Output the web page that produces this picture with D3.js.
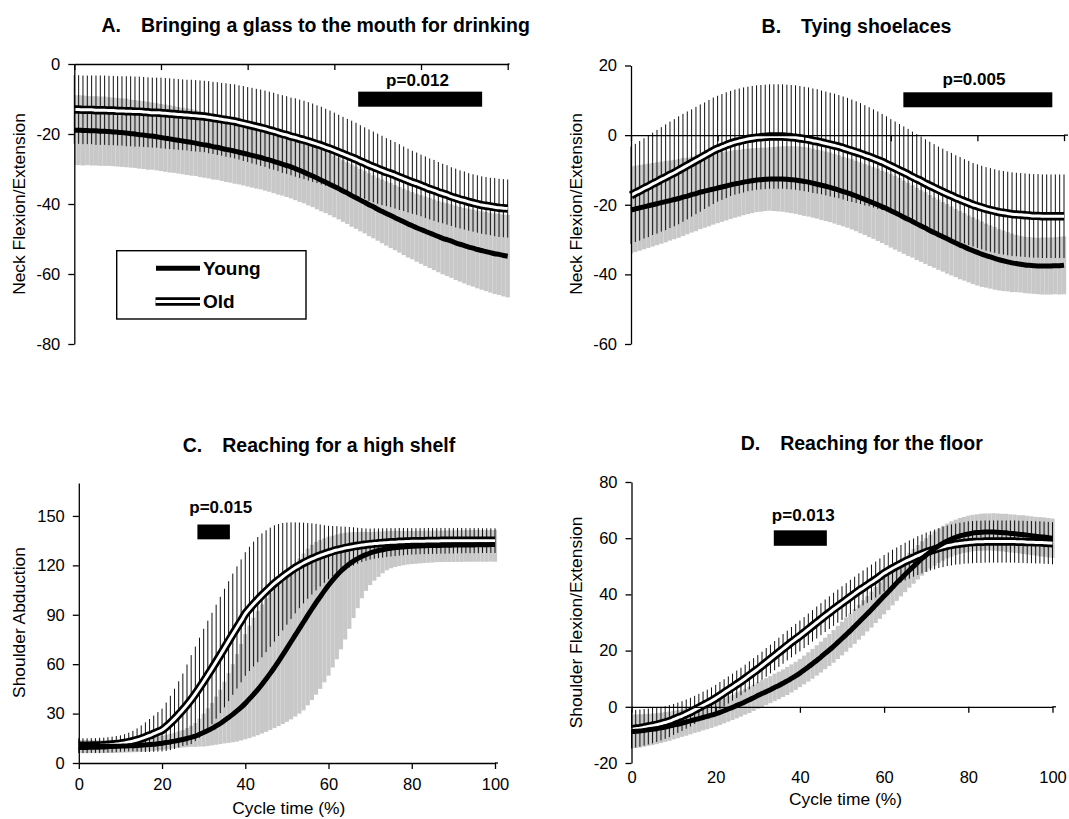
<!DOCTYPE html>
<html>
<head>
<meta charset="utf-8">
<script src="https://cdn.jsdelivr.net/npm/d3@7"></script>
<style>
  body { margin: 0; background: #fff; }
  svg { display: block; font-family: "Liberation Sans", Arial, sans-serif; }
</style>
</head>
<body>
<svg id="chart" width="1069" height="819"></svg>
<script>
// cycle time (%) 0..100, one sample per percent
const cycle = d3.range(0, 101);
const xTicks = [0, 20, 40, 60, 80, 100];

// ---- A. Bringing a glass to the mouth (neck flexion/extension)
const youngMeanA = [
  -18.9,-18.9,-19.0,-19.0,-19.1,-19.1,-19.2,-19.2,-19.3,-19.4,-19.5,
  -19.6,-19.7,-19.9,-20.0,-20.2,-20.3,-20.5,-20.6,-20.8,-21.0,
  -21.2,-21.4,-21.6,-21.8,-22.0,-22.2,-22.4,-22.6,-22.9,-23.1,
  -23.3,-23.6,-23.8,-24.1,-24.4,-24.6,-24.9,-25.2,-25.5,-25.8,
  -26.1,-26.4,-26.7,-27.1,-27.4,-27.8,-28.2,-28.6,-29.0,-29.4,
  -29.9,-30.4,-30.9,-31.5,-32.0,-32.6,-33.2,-33.8,-34.4,-35.0,
  -35.6,-36.3,-36.9,-37.6,-38.2,-38.9,-39.5,-40.2,-40.8,-41.5,
  -42.1,-42.7,-43.3,-43.9,-44.5,-45.1,-45.7,-46.2,-46.8,-47.3,
  -47.8,-48.3,-48.8,-49.3,-49.8,-50.2,-50.6,-51.1,-51.5,-51.9,
  -52.3,-52.6,-53.0,-53.3,-53.6,-53.9,-54.2,-54.4,-54.7,-54.9];
const youngSdA = [
  10.0,10.0,10.0,9.9,9.9,9.9,9.9,9.9,9.8,9.8,9.8,
  9.8,9.8,9.7,9.7,9.7,9.7,9.7,9.6,9.6,9.6,
  9.6,9.6,9.5,9.5,9.5,9.5,9.5,9.4,9.4,9.4,
  9.4,9.4,9.3,9.3,9.3,9.3,9.3,9.2,9.2,9.2,
  9.2,9.2,9.1,9.1,9.1,9.1,9.1,9.0,9.0,9.0,
  9.0,9.0,8.9,8.9,8.9,8.9,8.9,8.8,8.8,8.8,
  8.8,8.8,8.8,8.9,8.9,8.9,8.9,9.0,9.0,9.0,
  9.1,9.2,9.3,9.3,9.4,9.5,9.6,9.6,9.7,9.8,
  9.9,10.0,10.1,10.2,10.3,10.4,10.5,10.6,10.7,10.8,
  10.9,11.0,11.1,11.2,11.3,11.4,11.5,11.6,11.7,11.8];
const oldMeanA = [
  -13.0,-13.0,-13.1,-13.1,-13.1,-13.2,-13.2,-13.2,-13.3,-13.3,-13.4,
  -13.4,-13.5,-13.5,-13.6,-13.6,-13.7,-13.8,-13.9,-13.9,-14.0,
  -14.1,-14.2,-14.3,-14.4,-14.5,-14.6,-14.7,-14.8,-14.9,-15.0,
  -15.2,-15.4,-15.6,-15.8,-16.0,-16.2,-16.4,-16.7,-17.0,-17.3,
  -17.6,-17.9,-18.2,-18.5,-18.9,-19.2,-19.6,-20.0,-20.3,-20.7,
  -21.0,-21.4,-21.7,-22.1,-22.5,-22.9,-23.3,-23.8,-24.2,-24.7,
  -25.2,-25.7,-26.2,-26.7,-27.2,-27.8,-28.3,-28.9,-29.4,-29.9,
  -30.4,-30.9,-31.3,-31.8,-32.3,-32.8,-33.3,-33.8,-34.2,-34.7,
  -35.2,-35.7,-36.1,-36.6,-37.0,-37.4,-37.9,-38.3,-38.7,-39.0,
  -39.4,-39.7,-40.0,-40.3,-40.5,-40.7,-40.9,-41.1,-41.2,-41.3];
const oldSdA = [
  9.8,9.8,9.8,9.8,9.8,9.9,9.9,9.9,9.9,9.9,9.9,
  9.9,10.0,10.0,10.0,10.0,10.0,10.0,10.0,10.0,10.1,
  10.1,10.1,10.1,10.1,10.1,10.1,10.2,10.2,10.2,10.2,
  10.3,10.3,10.4,10.4,10.5,10.5,10.6,10.6,10.7,10.7,
  10.8,10.8,10.9,10.9,11.0,11.0,11.0,11.1,11.1,11.1,
  11.2,11.2,11.2,11.2,11.2,11.1,11.1,11.0,10.9,10.8,
  10.7,10.6,10.5,10.5,10.4,10.3,10.2,10.2,10.1,10.0,
  9.9,9.7,9.6,9.5,9.4,9.2,9.1,9.0,8.9,8.8,
  8.8,8.7,8.7,8.6,8.5,8.5,8.4,8.4,8.3,8.3,
  8.2,8.2,8.2,8.2,8.2,8.2,8.3,8.3,8.3,8.3];

// ---- B. Tying shoelaces (neck flexion/extension)
const youngMeanB = [
  -21.5,-21.2,-20.9,-20.6,-20.3,-20.0,-19.7,-19.4,-19.1,-18.8,-18.5,
  -18.2,-17.8,-17.5,-17.1,-16.8,-16.4,-16.1,-15.8,-15.5,-15.2,
  -14.9,-14.6,-14.3,-14.0,-13.8,-13.5,-13.3,-13.1,-12.9,-12.8,
  -12.7,-12.6,-12.6,-12.6,-12.6,-12.7,-12.8,-12.9,-13.1,-13.3,
  -13.5,-13.8,-14.1,-14.4,-14.7,-15.0,-15.4,-15.8,-16.2,-16.6,
  -17.0,-17.5,-18.0,-18.5,-19.0,-19.5,-20.0,-20.6,-21.1,-21.7,
  -22.3,-22.9,-23.6,-24.2,-24.8,-25.5,-26.1,-26.7,-27.4,-28.0,
  -28.6,-29.2,-29.8,-30.4,-31.0,-31.6,-32.1,-32.7,-33.2,-33.7,
  -34.2,-34.6,-35.0,-35.4,-35.8,-36.1,-36.4,-36.7,-36.9,-37.1,
  -37.3,-37.4,-37.5,-37.6,-37.6,-37.6,-37.6,-37.5,-37.5,-37.4];
const youngSdB = [
  12.5,12.4,12.3,12.2,12.1,12.0,11.9,11.8,11.7,11.5,11.4,
  11.3,11.2,11.0,10.9,10.8,10.6,10.5,10.4,10.2,10.1,
  10.0,9.9,9.8,9.7,9.6,9.5,9.4,9.3,9.2,9.2,
  9.1,9.1,9.2,9.3,9.4,9.5,9.6,9.7,9.8,9.9,
  9.9,9.9,9.9,10.0,10.0,10.0,10.0,10.0,10.0,10.0,
  10.1,10.1,10.2,10.2,10.3,10.3,10.4,10.4,10.5,10.6,
  10.6,10.6,10.5,10.5,10.4,10.4,10.3,10.3,10.2,10.1,
  10.1,10.0,10.0,9.9,9.8,9.8,9.7,9.6,9.6,9.5,
  9.4,9.2,9.1,9.0,8.8,8.7,8.5,8.4,8.2,8.1,
  8.1,8.1,8.1,8.1,8.2,8.2,8.2,8.2,8.3,8.3];
const oldMeanB = [
  -17.3,-16.6,-16.0,-15.3,-14.7,-14.0,-13.4,-12.7,-12.1,-11.4,-10.8,
  -10.1,-9.4,-8.7,-8.0,-7.3,-6.6,-5.9,-5.2,-4.5,-3.9,
  -3.4,-2.9,-2.4,-2.0,-1.7,-1.4,-1.1,-0.9,-0.7,-0.6,
  -0.5,-0.4,-0.4,-0.4,-0.4,-0.5,-0.6,-0.7,-0.9,-1.1,
  -1.3,-1.6,-1.8,-2.1,-2.4,-2.7,-3.0,-3.3,-3.7,-4.1,
  -4.5,-4.9,-5.3,-5.8,-6.2,-6.7,-7.2,-7.7,-8.3,-8.9,
  -9.5,-10.1,-10.7,-11.3,-12.0,-12.6,-13.2,-13.9,-14.5,-15.1,
  -15.7,-16.3,-16.9,-17.4,-18.0,-18.5,-19.0,-19.5,-20.0,-20.4,
  -20.8,-21.2,-21.5,-21.8,-22.1,-22.3,-22.5,-22.7,-22.8,-22.9,
  -23.0,-23.1,-23.2,-23.2,-23.3,-23.3,-23.3,-23.3,-23.3,-23.3];
const oldSdB = [
  14.0,14.1,14.3,14.4,14.6,14.7,14.9,15.0,15.2,15.3,15.4,
  15.5,15.5,15.5,15.4,15.4,15.4,15.3,15.3,15.3,15.2,
  15.2,15.2,15.1,15.1,15.1,15.1,15.0,15.0,15.0,15.0,
  15.0,15.0,15.0,15.0,15.0,15.0,15.0,15.0,15.0,15.0,
  15.0,15.0,15.0,14.9,14.9,14.9,14.9,14.8,14.8,14.8,
  14.7,14.6,14.5,14.4,14.2,14.1,14.0,13.8,13.7,13.5,
  13.4,13.3,13.2,13.1,13.0,12.9,12.8,12.7,12.6,12.5,
  12.4,12.4,12.3,12.3,12.2,12.2,12.1,12.1,12.0,12.0,
  12.0,12.0,12.0,12.0,12.0,12.0,12.0,12.0,12.0,12.0,
  12.0,12.0,12.0,12.0,12.0,12.0,12.0,12.0,12.0,12.0];

// ---- C. Reaching for a high shelf (shoulder abduction)
const youngMeanC = [
  10.0,10.0,10.0,10.0,10.0,10.0,10.0,10.1,10.1,10.1,10.2,
  10.3,10.4,10.5,10.6,10.8,11.0,11.2,11.4,11.7,12.0,
  12.4,12.8,13.3,13.8,14.3,14.9,15.6,16.3,17.4,18.5,
  19.7,21.0,22.5,24.0,25.8,27.6,29.5,31.6,33.8,36.2,
  38.9,41.7,44.6,47.7,51.0,54.4,58.0,61.7,65.6,69.6,
  73.6,77.6,81.6,85.6,89.6,93.5,97.3,100.9,104.5,107.9,
  111.0,113.9,116.6,118.8,120.8,122.6,124.1,125.4,126.5,127.5,
  128.3,129.0,129.5,130.0,130.4,130.7,131.0,131.2,131.4,131.6,
  131.7,131.8,131.9,132.0,132.0,132.1,132.1,132.2,132.2,132.3,
  132.3,132.3,132.4,132.4,132.4,132.5,132.5,132.5,132.6,132.6];
// the young spread in C is not symmetric: upward and downward extent
const youngSdC = [
  4.0,4.0,4.0,4.0,4.0,4.0,4.0,4.0,4.0,4.0,4.0,
  4.0,4.0,4.0,4.0,4.0,4.1,4.2,4.3,4.4,4.5,
  4.7,4.9,5.1,5.4,5.7,6.3,7.0,8.0,9.5,11.5,
  13.5,15.5,17.8,20.5,23.5,27.0,30.5,34.5,38.5,42.0,
  44.5,46.5,47.8,48.6,49.0,48.9,48.5,47.8,46.8,45.5,
  44.5,43.5,42.5,41.5,40.5,39.0,37.0,34.5,32.0,29.5,
  27.0,24.8,22.8,21.0,19.2,17.6,16.2,15.0,13.8,12.7,
  12.0,11.5,11.1,10.8,10.6,10.3,10.0,9.7,9.5,9.3,
  9.2,9.2,9.1,9.1,9.0,9.0,9.0,9.0,9.0,9.0,
  9.0,9.0,9.0,9.0,9.0,9.0,8.9,8.9,8.9,8.9];
const youngSdLowC = [
  4.0,4.0,4.0,4.0,4.0,4.0,4.0,4.0,4.0,4.0,4.0,
  4.0,4.0,4.0,4.0,4.0,4.0,4.0,4.0,4.0,4.0,
  4.1,4.2,4.4,4.6,4.9,5.3,5.8,6.5,7.4,8.5,
  9.4,10.3,11.4,12.5,13.9,15.4,16.9,18.6,20.1,21.8,
  23.8,25.7,27.7,29.8,32.1,34.4,36.8,39.3,41.9,44.6,
  47.1,49.4,51.6,53.6,54.6,55.3,55.8,55.9,55.5,54.9,
  53.0,50.9,47.6,43.8,39.3,34.6,30.1,25.4,22.0,19.5,
  17.6,16.0,14.3,13.0,12.2,11.7,11.4,11.1,10.9,10.8,
  10.7,10.6,10.5,10.4,10.3,10.1,10.1,10.1,10.1,10.2,
  10.2,10.2,10.2,10.2,10.2,10.3,10.3,10.3,10.3,10.4];
const oldMeanC = [
  10.5,10.5,10.5,10.6,10.6,10.7,10.8,11.0,11.2,11.5,11.8,
  12.2,12.7,13.3,14.0,14.8,15.7,16.7,17.8,18.9,20.0,
  22.0,24.3,26.8,29.5,32.3,35.3,38.5,42.0,45.7,49.5,
  53.4,57.4,61.5,65.6,69.8,74.0,78.2,82.3,86.3,90.5,
  93.6,96.5,99.2,101.8,104.3,106.7,109.0,111.1,113.1,115.0,
  116.8,118.5,120.0,121.4,122.7,123.9,125.0,126.0,126.9,127.8,
  128.6,129.3,129.9,130.5,131.0,131.5,131.9,132.3,132.6,132.9,
  133.2,133.4,133.6,133.8,134.0,134.1,134.3,134.4,134.5,134.6,
  134.6,134.7,134.7,134.8,134.8,134.8,134.9,134.9,134.9,134.9,
  135.0,135.0,135.0,135.0,135.0,135.0,135.0,135.0,135.0,135.0];
const oldSdC = [
  4.5,4.5,4.5,4.5,4.5,4.6,4.6,4.7,4.8,4.9,5.0,
  5.3,5.7,6.2,7.0,8.0,9.0,10.0,11.0,12.0,13.0,
  14.7,16.5,18.3,20.1,22.0,24.5,27.0,28.7,30.4,32.0,
  33.0,33.8,34.6,35.3,36.0,36.4,36.8,37.1,37.3,37.5,
  37.7,37.9,38.0,37.6,37.0,36.2,35.3,34.0,32.6,31.0,
  29.3,27.6,26.0,24.5,23.0,21.6,20.2,18.8,17.5,16.2,
  15.3,14.5,13.7,13.0,12.3,11.6,10.9,10.3,9.8,9.4,
  9.2,9.0,8.9,8.7,8.6,8.5,8.4,8.3,8.1,8.0,
  8.0,7.9,7.9,7.9,7.8,7.8,7.8,7.8,7.7,7.7,
  7.7,7.7,7.6,7.6,7.6,7.6,7.5,7.5,7.5,7.5];

// ---- D. Reaching for the floor (shoulder flexion/extension)
const youngMeanD = [
  -8.8,-8.7,-8.6,-8.4,-8.2,-8.0,-7.8,-7.5,-7.2,-6.9,-6.5,
  -6.2,-5.8,-5.4,-5.0,-4.6,-4.2,-3.8,-3.4,-3.0,-2.5,
  -2.0,-1.4,-0.8,-0.2,0.5,1.1,1.8,2.5,3.2,4.0,
  4.7,5.4,6.1,6.9,7.6,8.4,9.2,10.1,11.0,12.0,
  13.1,14.2,15.3,16.5,17.7,19.0,20.2,21.5,22.9,24.3,
  25.7,27.1,28.6,30.1,31.6,33.1,34.6,36.2,37.8,39.4,
  40.9,42.5,44.1,45.6,47.1,48.6,50.0,51.4,52.8,54.0,
  55.2,56.3,57.3,58.2,59.0,59.7,60.3,60.8,61.2,61.5,
  61.8,62.0,62.1,62.2,62.2,62.2,62.1,62.0,61.9,61.7,
  61.6,61.4,61.3,61.1,60.9,60.7,60.5,60.4,60.2,60.0];
const youngSdD = [
  6.0,6.0,5.9,5.8,5.7,5.6,5.5,5.4,5.3,5.2,5.1,
  5.0,4.9,4.9,4.8,4.7,4.7,4.6,4.6,4.5,4.5,
  4.5,4.5,4.5,4.5,4.6,4.6,4.6,4.7,4.7,4.7,
  4.8,4.8,4.8,4.9,4.9,4.9,5.0,5.0,5.0,5.0,
  5.1,5.2,5.3,5.4,5.5,5.6,5.7,5.8,5.9,6.0,
  6.1,6.1,6.2,6.2,6.3,6.3,6.4,6.4,6.5,6.5,
  6.5,6.4,6.4,6.3,6.3,6.2,6.2,6.1,6.1,6.0,
  6.0,6.1,6.1,6.2,6.2,6.3,6.3,6.4,6.4,6.5,
  6.5,6.5,6.6,6.6,6.6,6.7,6.7,6.7,6.8,6.8,
  6.8,6.8,6.9,6.9,6.9,6.9,7.0,7.0,7.0,7.0];
const oldMeanD = [
  -8.0,-7.8,-7.6,-7.3,-7.0,-6.7,-6.4,-6.0,-5.6,-5.1,-4.5,
  -3.9,-3.3,-2.6,-1.9,-1.1,-0.3,0.5,1.3,2.1,3.0,
  4.0,5.0,6.0,7.0,8.0,9.0,10.1,11.2,12.3,13.4,
  14.6,15.8,17.0,18.2,19.4,20.6,21.8,23.0,24.1,25.2,
  26.4,27.6,28.8,30.0,31.2,32.4,33.5,34.7,35.8,36.9,
  38.0,39.1,40.2,41.3,42.3,43.3,44.3,45.3,46.4,47.5,
  48.4,49.3,50.1,50.9,51.7,52.4,53.1,53.8,54.4,55.0,
  55.5,56.0,56.5,56.9,57.3,57.6,57.9,58.1,58.3,58.5,
  58.6,58.7,58.7,58.8,58.8,58.8,58.8,58.8,58.8,58.8,
  58.8,58.7,58.7,58.6,58.6,58.5,58.5,58.4,58.3,58.2];
const oldSdD = [
  6.8,6.7,6.6,6.5,6.4,6.3,6.1,6.0,5.8,5.7,5.5,
  5.4,5.3,5.2,5.1,5.0,4.9,4.9,4.8,4.8,4.8,
  4.8,4.8,4.8,4.8,4.9,4.9,4.9,5.0,5.0,5.0,
  5.0,5.1,5.1,5.2,5.2,5.3,5.3,5.4,5.4,5.5,
  5.5,5.6,5.6,5.7,5.7,5.8,5.8,5.9,5.9,6.0,
  6.0,6.1,6.1,6.2,6.2,6.3,6.3,6.4,6.4,6.5,
  6.5,6.6,6.6,6.7,6.7,6.8,6.8,6.9,6.9,7.0,
  7.0,7.1,7.1,7.2,7.2,7.3,7.3,7.4,7.4,7.5,
  7.5,7.5,7.5,7.5,7.5,7.5,7.5,7.5,7.5,7.5,
  7.5,7.5,7.5,7.5,7.5,7.5,7.5,7.5,7.5,7.5];

// panel texts, axis ranges and ticks
const letters = ['A.', 'B.', 'C.', 'D.'];
const titles = ['Bringing a glass to the mouth for drinking', 'Tying shoelaces',
                'Reaching for a high shelf', 'Reaching for the floor'];
const yTitles = ['Neck Flexion/Extension', 'Neck Flexion/Extension',
                 'Shoulder Abduction', 'Shoulder Flexion/Extension'];
const yDomains = [[-80, 0], [-60, 20], [0, 170], [-20, 80]];
const yTicks = [[-80, -60, -40, -20, 0], [-60, -40, -20, 0, 20],
                [0, 30, 60, 90, 120, 150], [-20, 0, 20, 40, 60, 80]];

// significant-difference bars (cycle %, value units) and their p values
const sigLabels = ['p=0.012', 'p=0.005', 'p=0.015', 'p=0.013'];
const sigStart = [65.5, 62.9, 28.5, 33.8];
const sigEnd = [94.1, 97.3, 36.3, 46.4];
const sigHigh = [-7.9, 12.3, 144.8, 62.8];
const sigLow = [-12.2, 8.0, 135.8, 57.3];
const sigLabelX = [79.2, 79.2, 34.1, 40.8];
const sigLabelY = [-6.3, 14.5, 152, 66];

const legendNames = ['Young', 'Old'];

// layout of each panel in pixels
const frames = [
  { left: 74.3, right: 507.7, top: 64, bottom: 344, axisEnd: 509.5,
    titleX: 315.6, titleY: 31.5, yTitleX: 18.8, yTitleY: 204 },
  { left: 631, right: 1064, top: 65.5, bottom: 344, axisEnd: 1068,
    titleX: 856.5, titleY: 33, yTitleX: 576, yTitleY: 204 },
  { left: 78.8, right: 495, top: 483, bottom: 763, axisEnd: 498,
    titleX: 319, titleY: 451.5, yTitleX: 18.8, yTitleY: 622.5,
    xTitleX: 288.8, xTitleY: 814, xLabelPad: 9 },
  { left: 631.5, right: 1052.5, top: 482, bottom: 763, axisEnd: 1056,
    titleX: 861.7, titleY: 450, yTitleX: 576, yTitleY: 622.5,
    xTitleX: 845.5, xTitleY: 804.5, xLabelPad: 8 }
];

const panels = [
  { young: youngMeanA, youngUp: youngSdA, youngDown: youngSdA, old: oldMeanA, oldSd: oldSdA },
  { young: youngMeanB, youngUp: youngSdB, youngDown: youngSdB, old: oldMeanB, oldSd: oldSdB },
  { young: youngMeanC, youngUp: youngSdC, youngDown: youngSdLowC, old: oldMeanC, oldSd: oldSdC },
  { young: youngMeanD, youngUp: youngSdD, youngDown: youngSdD, old: oldMeanD, oldSd: oldSdD }
];

const svg = d3.select('#chart');
const grey = '#c8c8c8';
const tickFont = 16.5;
const labelFont = 17.4;

function styleAxis(g) {
  g.attr('font-family', null).attr('font-size', null);
  g.selectAll('.domain').attr('stroke', '#000').attr('stroke-width', 1.3);
  g.selectAll('.tick line').attr('stroke', '#000').attr('stroke-width', 1.3);
  g.selectAll('.tick text').attr('fill', '#000').style('font-size', tickFont + 'px');
}

panels.forEach((p, k) => {
  const f = frames[k];
  const x = d3.scaleLinear().domain([0, 100]).range([f.left, f.right]);
  const y = d3.scaleLinear().domain(yDomains[k]).range([f.bottom, f.top]);
  const step = x(1) - x(0);
  const g = svg.append('g');

  // young: spread around the mean as grey bars
  g.append('g').selectAll('rect').data(cycle).join('rect')
    .attr('x', d => Math.max(x(d) - step / 2, x(0)))
    .attr('width', d => x(d) + step / 2 - Math.max(x(d) - step / 2, x(0)))
    .attr('y', (d, i) => y(p.young[i] + p.youngUp[i]))
    .attr('height', (d, i) => y(p.young[i] - p.youngDown[i]) - y(p.young[i] + p.youngUp[i]))
    .attr('fill', grey);

  // old: mean +/- SD as thin black bars
  g.append('g').selectAll('line').data(cycle).join('line')
    .attr('x1', d => x(d)).attr('x2', d => x(d))
    .attr('y1', (d, i) => y(p.old[i] + p.oldSd[i]))
    .attr('y2', (d, i) => y(p.old[i] - p.oldSd[i]))
    .attr('stroke', '#111').attr('stroke-width', 1);

  const line = d3.line().x((d, i) => x(cycle[i])).y(d => y(d)).curve(d3.curveMonotoneX);

  // old mean: double line
  g.append('path').attr('d', line(p.old)).attr('fill', 'none')
    .attr('stroke', '#000').attr('stroke-width', 8.4);
  g.append('path').attr('d', line(p.old)).attr('fill', 'none')
    .attr('stroke', '#fff').attr('stroke-width', 3);
  // young mean: thick line
  g.append('path').attr('d', line(p.young)).attr('fill', 'none')
    .attr('stroke', '#000').attr('stroke-width', 5);

  // axes (hyphen minus, as in the original labels)
  const yAxis = d3.axisLeft(y).tickValues(yTicks[k]).tickSize(6).tickSizeOuter(0)
    .tickPadding(8).tickFormat(d => String(d));
  g.append('g').attr('transform', `translate(${f.left},0)`).call(yAxis).call(styleAxis);

  const showLabels = k === 2;
  const xAxis = d3.axisBottom(x).tickValues(xTicks).tickSize(6).tickSizeOuter(0)
    .tickPadding(f.xLabelPad || 8)
    .tickFormat(showLabels ? d3.format('d') : () => '');
  const gx = g.append('g').attr('transform', `translate(0,${y(0)})`).call(xAxis).call(styleAxis);
  gx.append('line').attr('x1', f.right).attr('x2', f.axisEnd)
    .attr('stroke', '#000').attr('stroke-width', 1.3);

  if (k === 3) {
    // labels sit below the plot, axis line stays at zero
    const xLab = d3.axisBottom(x).tickValues(xTicks).tickSize(0).tickPadding(f.xLabelPad)
      .tickFormat(d3.format('d'));
    const gl = g.append('g').attr('transform', `translate(0,${y(yDomains[k][0])})`)
      .call(xLab).call(styleAxis);
    gl.select('.domain').remove();
  }

  // significance bar
  g.append('rect')
    .attr('x', x(sigStart[k])).attr('width', x(sigEnd[k]) - x(sigStart[k]))
    .attr('y', y(sigHigh[k])).attr('height', y(sigLow[k]) - y(sigHigh[k]))
    .attr('fill', '#000');
  g.append('text').attr('x', x(sigLabelX[k])).attr('y', y(sigLabelY[k]))
    .attr('text-anchor', 'middle').attr('font-weight', 'bold').attr('font-size', 17)
    .text(sigLabels[k]);

  // title
  const t = g.append('text').attr('x', f.titleX).attr('y', f.titleY)
    .attr('text-anchor', 'middle').attr('font-weight', 'bold').attr('font-size', 19.5);
  t.append('tspan').text(letters[k]);
  t.append('tspan').attr('dx', 20).text(titles[k]);

  // axis titles
  g.append('text')
    .attr('transform', `translate(${f.yTitleX},${f.yTitleY}) rotate(-90)`)
    .attr('dy', '0.35em').attr('text-anchor', 'middle').attr('font-size', labelFont)
    .text(yTitles[k]);
  if (f.xTitleX) {
    g.append('text').attr('x', f.xTitleX).attr('y', f.xTitleY)
      .attr('text-anchor', 'middle').attr('font-size', labelFont)
      .text('Cycle time (%)');
  }
});

// legend (panel A)
const leg = svg.append('g');
leg.append('rect').attr('x', 116.7).attr('y', 250.7).attr('width', 189.3).attr('height', 68.3)
  .attr('fill', '#fff').attr('stroke', '#000').attr('stroke-width', 1.4);
leg.append('line').attr('x1', 156).attr('x2', 200).attr('y1', 268.3).attr('y2', 268.3)
  .attr('stroke', '#000').attr('stroke-width', 5);
leg.append('line').attr('x1', 155.5).attr('x2', 200).attr('y1', 301.5).attr('y2', 301.5)
  .attr('stroke', '#000').attr('stroke-width', 8.4);
leg.append('line').attr('x1', 155.5).attr('x2', 200).attr('y1', 301.5).attr('y2', 301.5)
  .attr('stroke', '#fff').attr('stroke-width', 3);
leg.selectAll('text.name').data(legendNames).join('text')
  .attr('class', 'name')
  .attr('x', 203).attr('y', (d, i) => i === 0 ? 275 : 308)
  .attr('font-weight', 'bold').attr('font-size', 19)
  .text(d => d);
</script>
</body>
</html>
